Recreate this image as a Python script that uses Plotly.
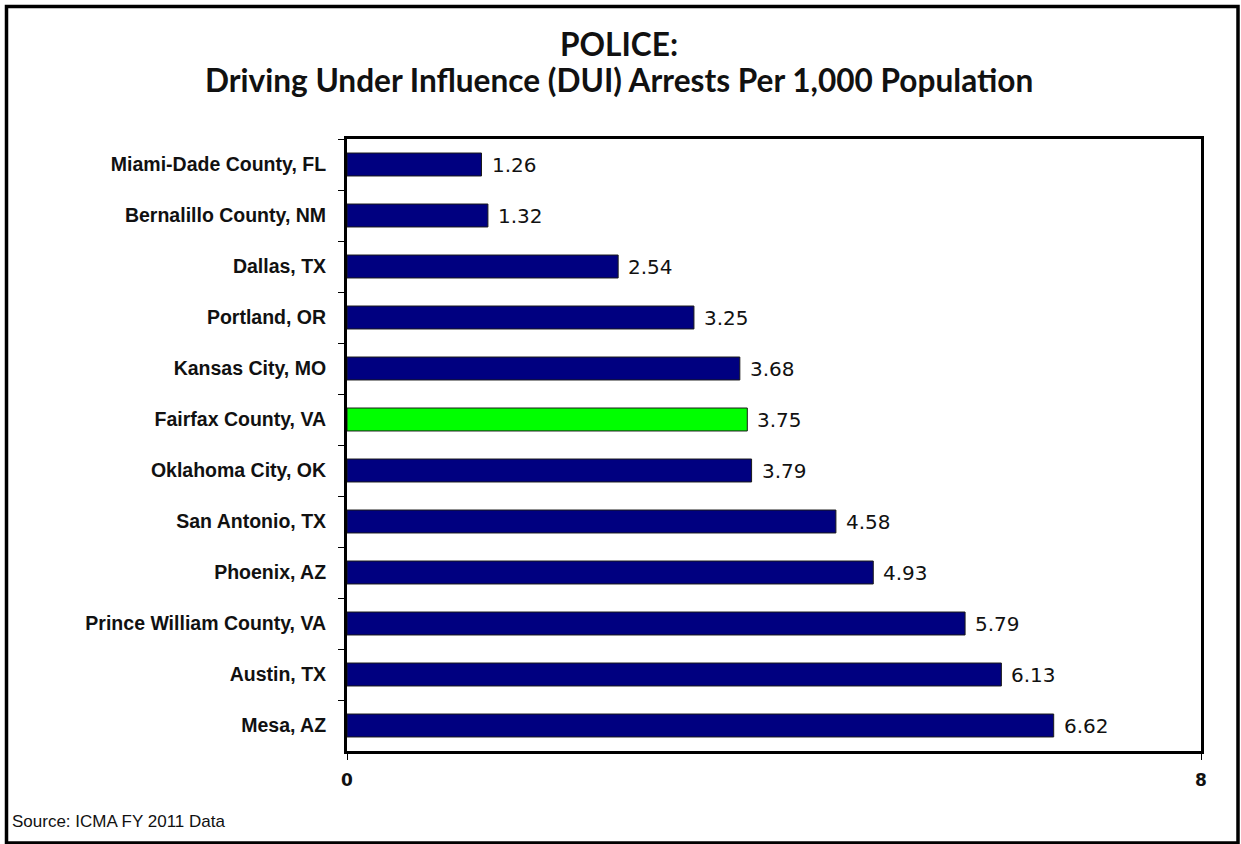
import plotly.graph_objects as go

categories = ["Miami-Dade County, FL", "Bernalillo County, NM", "Dallas, TX", "Portland, OR",
              "Kansas City, MO", "Fairfax County, VA", "Oklahoma City, OK", "San Antonio, TX",
              "Phoenix, AZ", "Prince William County, VA", "Austin, TX", "Mesa, AZ"]
values = [1.26, 1.32, 2.54, 3.25, 3.68, 3.75, 3.79, 4.58, 4.93, 5.79, 6.13, 6.62]
highlight = "Fairfax County, VA"
x_ticks = [0, 8]
title_lines = ["POLICE:", "Driving Under Influence (DUI) Arrests Per 1,000 Population"]
source_text = "Source: ICMA FY 2011 Data"

W, H = 1241, 844
L, R, T, B = 347, 1201, 139, 751

colors = ["#00FF00" if c == highlight else "#000080" for c in categories]

fig = go.Figure()
fig.add_trace(go.Bar(
    x=values, y=categories, orientation="h",
    marker=dict(color=colors, line=dict(color="#1a1a1a", width=1)),
    width=0.45, hoverinfo="skip",
))

for c, v in zip(categories, values):
    fig.add_annotation(x=v, y=c, xref="x", yref="y", text=f"{v:.2f}", showarrow=False,
                       xanchor="left", yanchor="middle", xshift=8,
                       font=dict(family="DejaVu Sans", size=20, color="#111111"))

def px(xp):
    return (xp - L) / (R - L)

def py(yp):
    return (B - yp) / (B - T)

fig.add_shape(type="rect", xref="paper", yref="paper",
              x0=px(6.5), x1=px(1238), y0=py(843), y1=py(6.5),
              line=dict(color="black", width=3.5), layer="above")

fig.add_annotation(text=source_text, xref="paper", yref="paper",
                   x=px(10), y=py(821), xanchor="left", yanchor="middle", showarrow=False,
                   font=dict(family="Liberation Sans", size=17, color="#111111"))

for txt, yc in zip(title_lines, [44, 80]):
    fig.add_annotation(text=txt, xref="paper", yref="paper",
                       x=px(619), y=py(yc), xanchor="center", yanchor="middle", showarrow=False,
                       font=dict(family="Lato", size=31.6, color="#111111", weight="bold"))

fig.update_layout(
    width=W, height=H,
    margin=dict(l=L, r=W - R, t=T, b=H - B, pad=0),
    paper_bgcolor="white", plot_bgcolor="white",
    showlegend=False,
)
fig.update_xaxes(range=[0, 8], tickvals=x_ticks, ticktext=[str(t) for t in x_ticks],
                 showgrid=False, zeroline=False, showline=True, linecolor="black", linewidth=3,
                 mirror=True, ticks="outside", ticklen=6, tickcolor="black", tickwidth=1,
                 ticklabelstandoff=6,
                 tickfont=dict(family="DejaVu Sans", size=17, color="#111111", weight="bold"))
fig.update_yaxes(autorange="reversed", showgrid=False, showline=True, linecolor="black",
                 linewidth=3, mirror=True, ticks="outside", ticklen=6, tickcolor="black",
                 tickwidth=1, tickson="boundaries", ticklabelstandoff=14,
                 tickfont=dict(family="Liberation Sans", size=19.5, color="#111111", weight="bold"))

fig.write_html("out.html", config={"displayModeBar": False},
               post_script="document.body.style.margin='0';")
